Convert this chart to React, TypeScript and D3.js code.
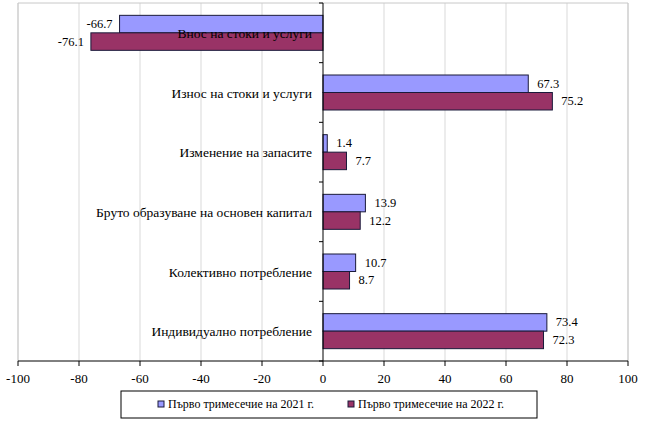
import React from "react";
import * as d3 from "d3";

const categories = [
  "Внос на стоки и услуги",
  "Износ на стоки и услуги",
  "Изменение на запасите",
  "Бруто образуване на основен капитал",
  "Колективно потребление",
  "Индивидуално потребление",
];
const series2021 = [-66.7, 67.3, 1.4, 13.9, 10.7, 73.4];
const series2022 = [-76.1, 75.2, 7.7, 12.2, 8.7, 72.3];
const seriesNames = ["Първо тримесечие на 2021 г.", "Първо тримесечие на 2022 г."];
const xTicks = [-100, -80, -60, -40, -20, 0, 20, 40, 60, 80, 100];

const colors = ["#9999FF", "#993366"];
const FF = '"Liberation Serif", "Times New Roman", serif';
const TS = { fontFamily: FF };

export default function App() {
  const W = 648, H = 421;
  const left = 18, right = 628, top = 3, bottom = 361;
  const x = d3.scaleLinear().domain([-100, 100]).range([left, right]);
  const y = d3.scaleBand<string>().domain(categories).range([top, bottom]);
  const inner = d3
    .scaleBand<string>()
    .domain(seriesNames)
    .range([0, y.bandwidth()])
    .paddingInner(0)
    .paddingOuter(0.705);
  const data = [series2021, series2022];
  const x0 = x(0);

  return (
    <svg width={W} height={H} style={{ position: "absolute", left: 0, top: 0, background: "#fff" }}>
      <rect x={0} y={0} width={W} height={H} fill="#fff" />
      {xTicks.map((t) => (
        <line
          key={"g" + t}
          x1={x(t)}
          x2={x(t)}
          y1={top}
          y2={bottom}
          stroke={t === 0 ? "none" : "#d9d9d9"}
          strokeWidth={1}
        />
      ))}
      <line x1={left} x2={right} y1={top} y2={top} stroke="#c8c8c8" />
      <line x1={left} x2={left} y1={top} y2={bottom} stroke="#c8c8c8" />
      <line x1={right} x2={right} y1={top} y2={bottom} stroke="#c8c8c8" />

      {data.map((vals, si) =>
        vals.map((v, i) => {
          const yy = (y(categories[i]) as number) + (inner(seriesNames[si]) as number);
          const h = inner.bandwidth();
          const xa = Math.min(x(v), x0);
          const w = Math.abs(x(v) - x0);
          return (
            <rect
              key={`b${si}-${i}`}
              x={xa}
              y={yy}
              width={w}
              height={h}
              fill={colors[si]}
              stroke="#1a1a3a"
              strokeWidth={1}
            />
          );
        })
      )}

      {categories.map((c) => (
        <text
          key={"c" + c}
          x={312}
          y={(y(c) as number) + y.bandwidth() / 2 + 5}
          textAnchor="end"
          fontSize={13.5}
          fill="#000"
          fontFamily={FF}
          style={TS}
        >
          {c}
        </text>
      ))}

      {data.map((vals, si) =>
        vals.map((v, i) => {
          const yy = (y(categories[i]) as number) + (inner(seriesNames[si]) as number) + inner.bandwidth() / 2;
          const neg = v < 0;
          return (
            <text
              key={`l${si}-${i}`}
              x={neg ? x(v) - 7 : x(v) + 9}
              y={yy + 4}
              textAnchor={neg ? "end" : "start"}
              fontSize={12.5}
              fill="#000"
              fontFamily={FF}
              style={TS}
            >
              {v.toFixed(1)}
            </text>
          );
        })
      )}

      <line x1={x0} x2={x0} y1={top} y2={bottom} stroke="#000" />
      {categories.map((c, i) => (
        <line
          key={"yt" + i}
          x1={x0 - 4}
          x2={x0}
          y1={y(c) as number}
          y2={y(c) as number}
          stroke="#000"
        />
      ))}
      <line x1={x0 - 4} x2={x0} y1={bottom} y2={bottom} stroke="#000" />

      <line x1={left} x2={right} y1={bottom} y2={bottom} stroke="#000" />
      {xTicks.map((t) => (
        <g key={"xt" + t}>
          <line x1={x(t)} x2={x(t)} y1={bottom} y2={bottom + 5} stroke="#000" />
          <text
            x={x(t)}
            y={bottom + 22}
            textAnchor="middle"
            fontSize={13}
            fill="#000"
            fontFamily={FF}
            style={TS}
          >
            {t}
          </text>
        </g>
      ))}

      <rect x={121} y={391} width={416} height={27} fill="#fff" stroke="#000" />
      {seriesNames.map((s, i) => {
        const lx = i === 0 ? 158 : 348;
        return (
          <g key={"lg" + i}>
            <rect x={lx} y={401} width={6} height={6} fill={colors[i]} stroke="#1a1a3a" />
            <text x={lx + 10} y={408} fontSize={12} fill="#000" fontFamily={FF} style={TS}>
              {s}
            </text>
          </g>
        );
      })}
    </svg>
  );
}
